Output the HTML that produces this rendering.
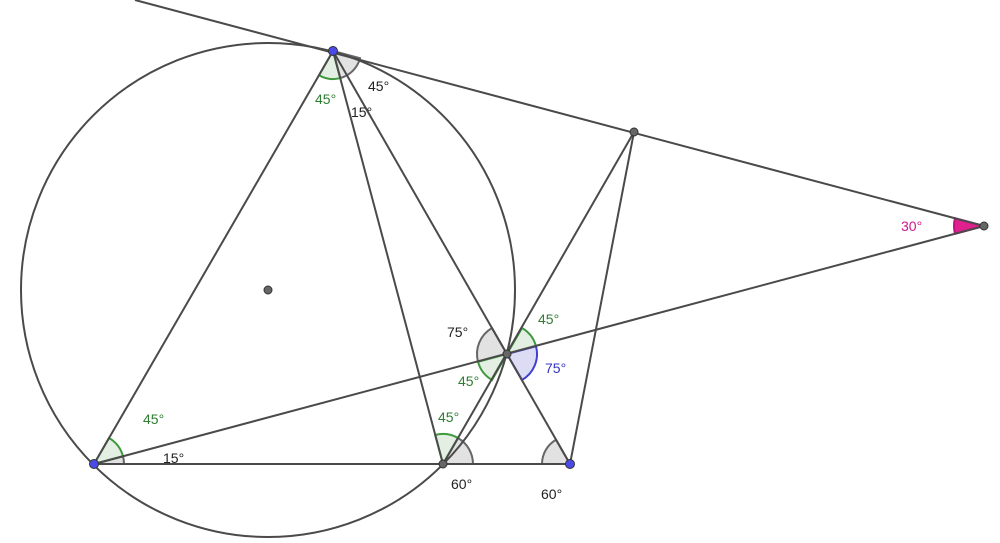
<!DOCTYPE html>
<html><head><meta charset="utf-8"><style>
body{margin:0;background:#fff;width:1000px;height:543px;overflow:hidden}
svg{display:block}
text{font-family:"Liberation Sans",sans-serif;font-size:14px}
</style></head><body>
<svg id="s" width="1000" height="543" viewBox="0 0 1000 543">
<g id="arcs"></g>
<g stroke="#4a4a4a" stroke-width="2" fill="none">
<circle cx="268" cy="290" r="247"/>
<line x1="135" y1="0" x2="984" y2="226"/>
<line x1="94" y1="464" x2="984" y2="226"/>
<line x1="94" y1="464" x2="570" y2="464"/>
<line x1="94" y1="464" x2="333" y2="51"/>
<line x1="333" y1="51" x2="443" y2="464"/>
<line x1="333" y1="51" x2="570" y2="464"/>
<line x1="443" y1="464" x2="634" y2="132"/>
<line x1="570" y1="464" x2="634" y2="132"/>
</g>
<g stroke="#333" stroke-width="1">
<circle cx="94" cy="464" r="4.5" fill="#4a4ae8"/>
<circle cx="333" cy="51" r="4.5" fill="#4a4ae8"/>
<circle cx="570" cy="464" r="4.5" fill="#4a4ae8"/>
<circle cx="443" cy="464" r="4" fill="#666"/>
<circle cx="507" cy="354" r="4" fill="#666"/>
<circle cx="634" cy="132" r="4" fill="#666"/>
<circle cx="984" cy="226" r="4" fill="#666"/>
<circle cx="268" cy="290" r="4" fill="#666"/>
</g>
<g>
<text x="143" y="424" fill="#2e7d32">45°</text>
<text x="163" y="463" fill="#222">15°</text>
<text x="315" y="104" fill="#2e7d32">45°</text>
<text x="368" y="91" fill="#222">45°</text>
<text x="351" y="117" fill="#222">15°</text>
<text x="447" y="337" fill="#222">75°</text>
<text x="538" y="324" fill="#2e7d32">45°</text>
<text x="458" y="386" fill="#2e7d32">45°</text>
<text x="545" y="373" fill="#3535c0">75°</text>
<text x="438" y="422" fill="#2e7d32">45°</text>
<text x="451" y="489" fill="#222">60°</text>
<text x="541" y="499" fill="#222">60°</text>
<text x="901" y="231" fill="#d0168c">30°</text>
</g>
</svg>
<script>
function sec(cx,cy,r,a1,a2,fill,stroke){
 const t=a=>a*Math.PI/180;
 const x1=cx+r*Math.cos(t(a1)),y1=cy+r*Math.sin(t(a1)),x2=cx+r*Math.cos(t(a2)),y2=cy+r*Math.sin(t(a2));
 const p=document.createElementNS("http://www.w3.org/2000/svg","path");
 p.setAttribute("d",`M${cx},${cy}L${x1},${y1}A${r},${r} 0 0 1 ${x2},${y2}Z`);
 p.setAttribute("fill",fill);p.setAttribute("stroke",stroke);p.setAttribute("stroke-width","2");
 document.getElementById("arcs").appendChild(p);
}
const G="#e3efe3",GS="#3f9a3f",Y="#e2e2e2",YS="#666";
sec(94,464,30,-15,0,Y,YS);
sec(94,464,30,-60,-15,G,GS);
sec(333,51,28,15,75,Y,YS);
sec(333,51,28,75,120,G,GS);
sec(443,464,30,-60,0,Y,YS);
sec(443,464,30,-105,-60,G,GS);
sec(570,464,28,-180,-120,Y,YS);
sec(507,354,30,165,240,Y,YS);
sec(507,354,30,120,165,G,GS);
sec(507,354,30,-60,-15,G,GS);
sec(507,354,30,-15,60,"#dcdcf5","#4040d0");
sec(984,226,30,165,195,"#e0208f","#c0107a");
</script>
</body></html>
